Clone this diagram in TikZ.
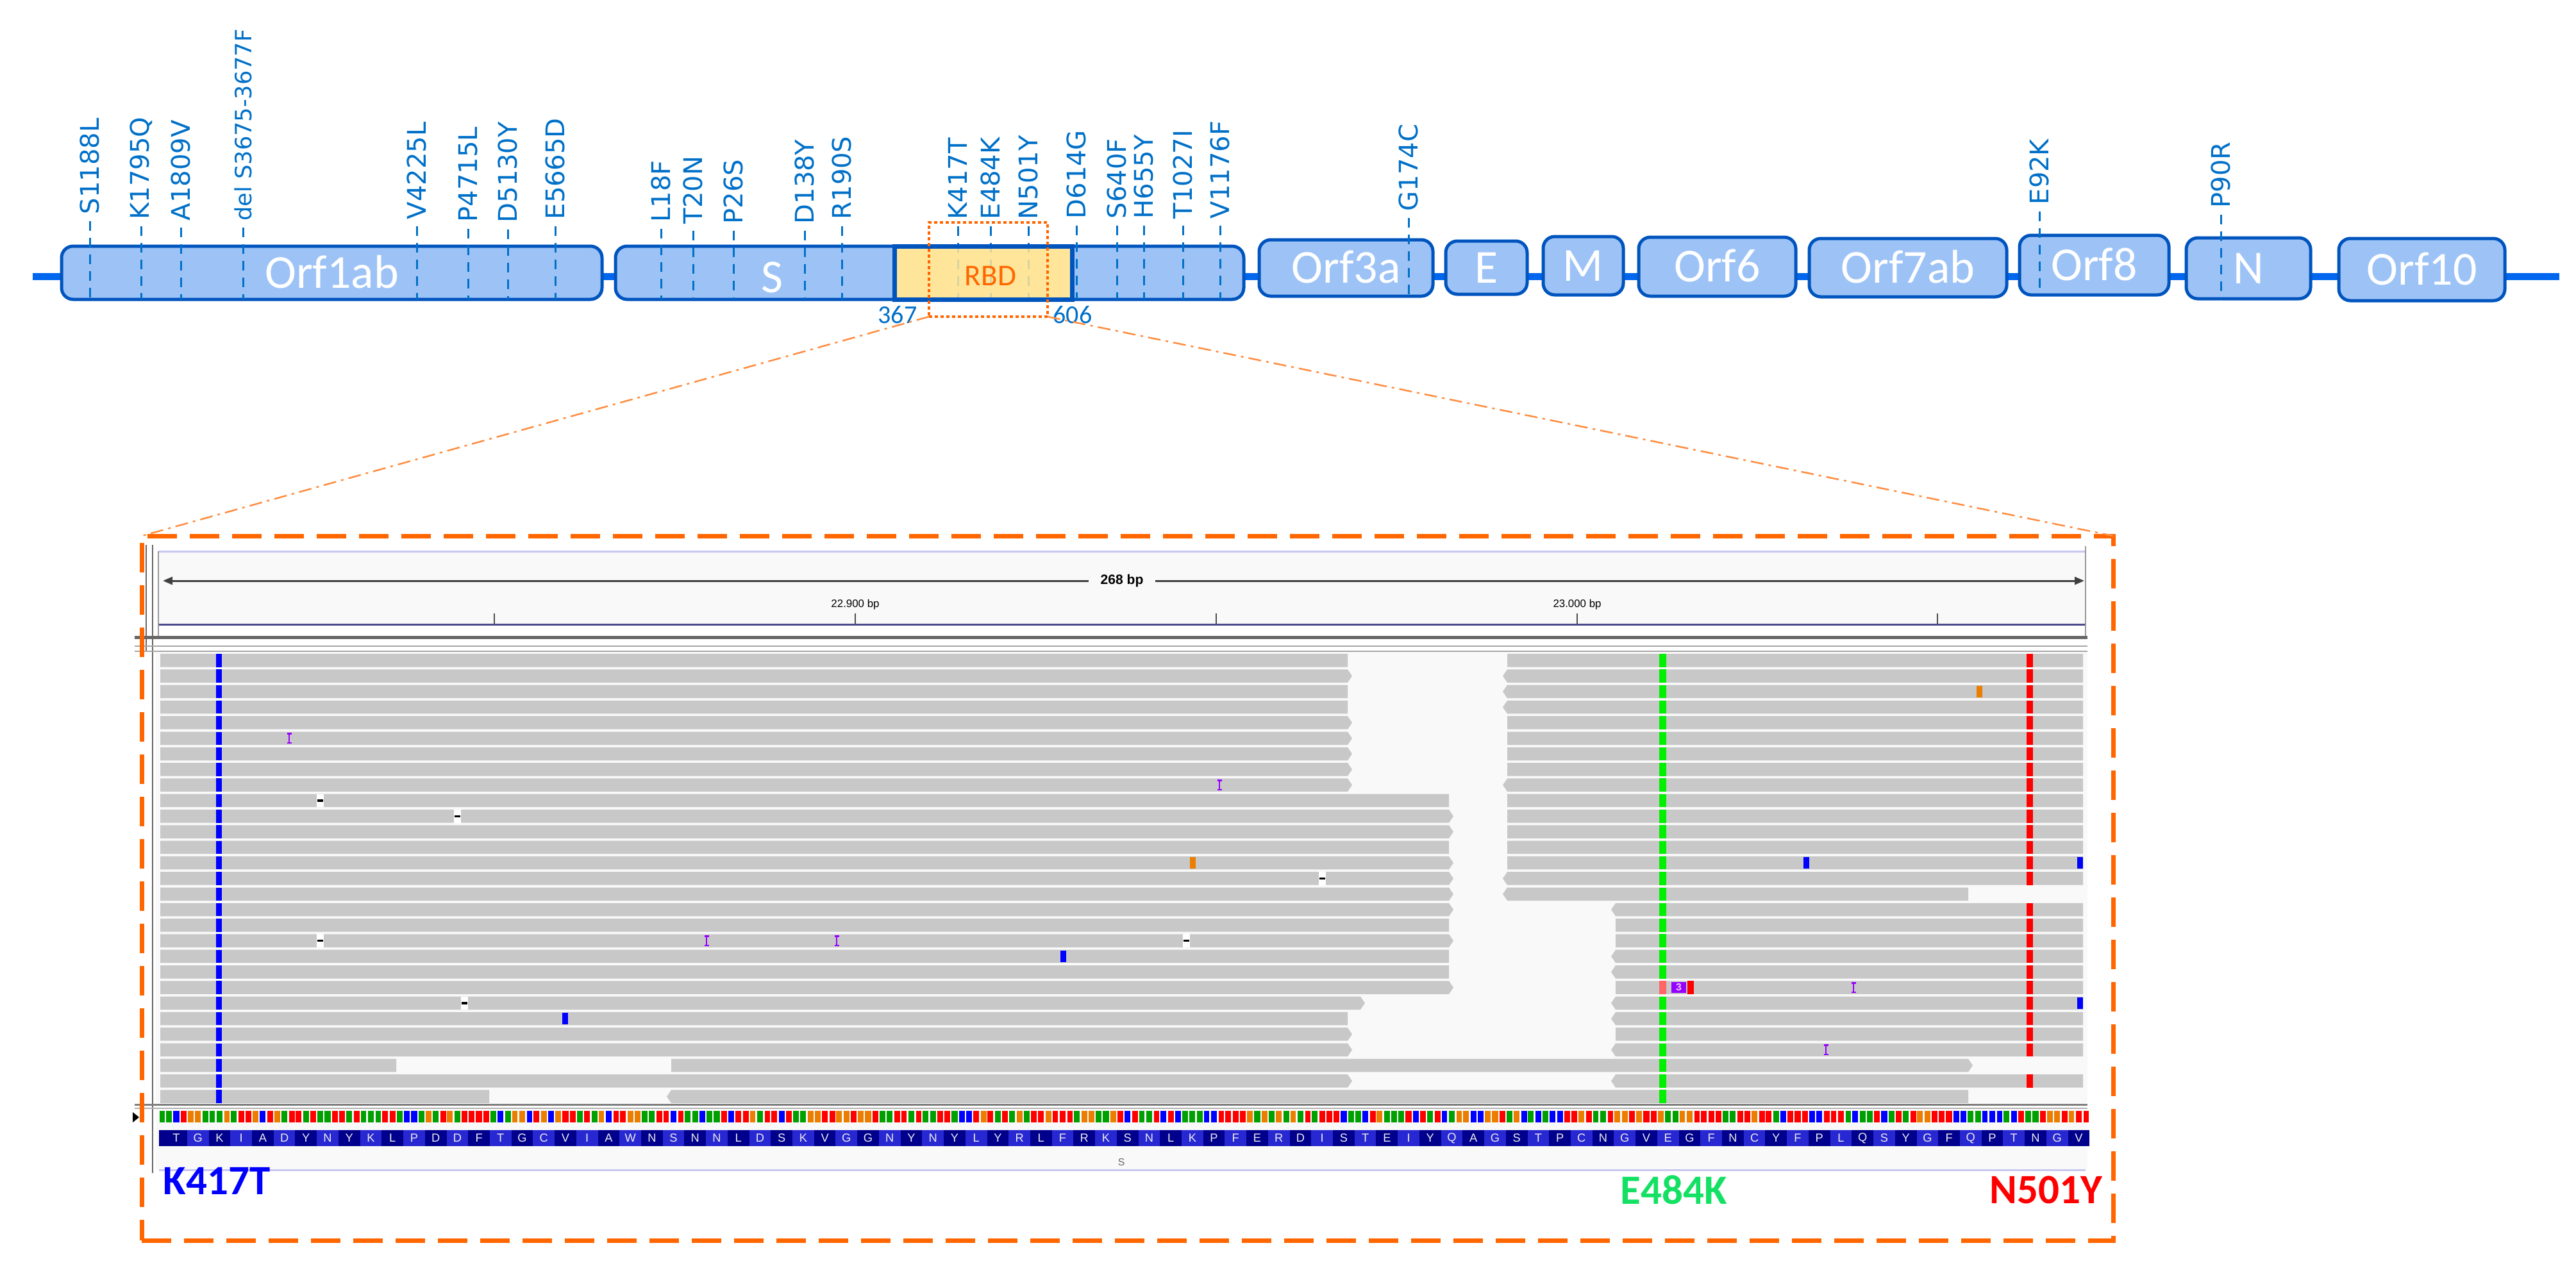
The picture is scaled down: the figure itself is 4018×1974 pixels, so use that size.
\documentclass[tikz,border=0pt]{standalone}
\usepackage{fontspec}
\setmainfont{DejaVu Sans}
\newfontfamily\carlito{Carlito}
\newfontfamily\libsans{Liberation Sans}
\usetikzlibrary{arrows.meta}

\definecolor{geneline}{RGB}{0,102,238}
\definecolor{genefill}{RGB}{157,195,246}
\definecolor{genedraw}{RGB}{0,84,190}
\definecolor{mutblue}{RGB}{0,112,200}
\definecolor{rbdyellow}{RGB}{255,229,153}
\definecolor{zoomorange}{RGB}{255,102,0}
\definecolor{readgray}{RGB}{200,200,200}
\definecolor{panelbg}{RGB}{249,249,249}
\definecolor{lavender}{RGB}{200,200,240}
\definecolor{rulerblue}{RGB}{75,75,140}
\definecolor{ntA}{RGB}{0,160,0}
\definecolor{ntC}{RGB}{0,0,255}
\definecolor{ntG}{RGB}{235,125,0}
\definecolor{ntT}{RGB}{255,0,0}
\definecolor{aadark}{RGB}{0,0,140}
\definecolor{aalight}{RGB}{40,40,210}
\definecolor{insviolet}{RGB}{150,0,255}
\definecolor{kcol}{RGB}{0,0,255}
\definecolor{ecol}{RGB}{0,240,0}
\definecolor{elbl}{RGB}{20,225,100}
\definecolor{ncol}{RGB}{255,0,0}

\begin{document}
\begin{tikzpicture}[x=0.1mm, y=-0.1mm,
  gene/.style={draw=genedraw, fill=genefill, line width=0.5mm, rounded corners=1.8mm,
    inner sep=0pt, outer sep=0pt, text=white,
    font=\carlito\fontsize{21pt}{21pt}\selectfont, text height=13.5pt, text depth=0pt},
  mut/.style={rotate=90, anchor=west, inner sep=0pt, text=mutblue,
    font=\fontsize{11.4pt}{11.4pt}\selectfont},
  mutline/.style={mutblue, line width=0.3mm, dash pattern=on 1.5mm off 1.1mm},
  zoomline/.style={zoomorange!75, line width=0.25mm, dash pattern=on 2mm off 0.8mm on 0.4mm off 0.8mm},
  num/.style={inner sep=0pt, text=mutblue, font=\carlito\fontsize{11.4pt}{11.4pt}\selectfont,
    text height=7.3pt, text depth=0pt},
  callout/.style={inner sep=0pt, font=\carlito\bfseries\fontsize{18.5pt}{18.5pt}\selectfont,
    text height=12pt, text depth=0pt},
  tick/.style={inner sep=0pt, font=\libsans\fontsize{4.8pt}{4.8pt}\selectfont},
  rbdbox/.style={minimum width=27.7mm, minimum height=8.3mm, inner sep=0pt, outer sep=0pt}]
\useasboundingbox (0,0) rectangle (4018,1974);

% genome backbone
\coordinate (g0) at (51,431);
\coordinate (g1) at (3992,431);
\draw[geneline, line width=1.1mm] (g0) -- (g1);

% genes
\node[gene, minimum width=84.3mm, minimum height=8.3mm] (orf1ab) at (517.5,425.5) {Orf1ab};
\node[gene, minimum width=98mm, minimum height=8.3mm] (s) at (1450,425.5) {};
\node[gene, minimum width=27.1mm, minimum height=8.8mm] (orf3a) at (2099.5,418) {Orf3a};
\node[gene, minimum width=12.7mm, minimum height=8.3mm] (e) at (2318.5,417.5) {E};
\node[gene, minimum width=12.5mm, minimum height=9.1mm] (m) at (2469.5,414.5) {M};
\node[gene, minimum width=24.5mm, minimum height=9.2mm] (orf6) at (2678.5,416) {Orf6};
\node[gene, minimum width=30.8mm, minimum height=9.1mm] (orf7ab) at (2976,417.5) {Orf7ab};
\node[gene, minimum width=23.3mm, minimum height=9.3mm] (orf8) at (3266.5,413.5) {Orf8};
\node[gene, minimum width=19.4mm, minimum height=9.5mm] (n) at (3507,418.5) {N};
\node[gene, minimum width=25.9mm, minimum height=9.7mm] (orf10) at (3777.5,420.5) {Orf10};
\node[rbdbox, fill=rbdyellow] (rbdbase) at (1533.5,425.5) {};

% mutations
\foreach \nm/\x/\y/\g in {S1188L/140/335/orf1ab, K1795Q/220/343/orf1ab, A1809V/282/345/orf1ab,
    V4225L/650/343/orf1ab, P4715L/730/347/orf1ab, D5130Y/792/348/orf1ab, E5665D/866/343/orf1ab,
    L18F/1031/347/s, T20N/1081/350/s, P26S/1144/350/s, D138Y/1255/350/s, R190S/1313/343/s,
    K417T/1494/343/s, E484K/1545/343/s, N501Y/1604/343/s, D614G/1679/342/s, S640F/1742/342/s,
    H655Y/1784/342/s, T1027I/1845/342/s, V1176F/1903/342/s,
    G174C/2197/330/orf3a, E92K/3181/320/orf8, P90R/3464/325/n}{
  \node[mut] (m-\nm) at (\x,\y) {\nm};
  \draw[mutline] (m-\nm.west) ++(0,10) -- (m-\nm.west |- \g.south);
}
\node[mut, font=\fontsize{10pt}{10pt}\selectfont] (m-del) at (379,345) {del S3675-3677F};
\draw[mutline] (m-del.west) ++(0,10) -- (m-del.west |- orf1ab.south);

\node[inner sep=0pt, text=white, font=\carlito\fontsize{21pt}{21pt}\selectfont,
  text height=13.5pt, text depth=0pt] (slabel) at (1204,433) {S};

% receptor binding domain
\node[rbdbox, draw=genedraw, fill=rbdyellow, fill opacity=0.85, line width=0.7mm] (rbd) at (1533.5,425.5) {};
\node[text=zoomorange, inner sep=0pt, font=\carlito\fontsize{13.4pt}{13.4pt}\selectfont] (rbdlabel) at (1545,430) {RBD};
\node[draw=zoomorange, line width=0.45mm, dash pattern=on 0.5mm off 0.4mm,
  minimum width=18.5mm, minimum height=14.7mm, inner sep=0pt, outer sep=0pt] (rbdframe) at (1541.5,420.5) {};
\node[num] (n367) at (1400,492) {367};
\node[num] (n606) at (1673,492) {606};

% IGV: ruler
\fill[panelbg] (247,858) rectangle (3253,974);
\draw[lavender, line width=0.3mm] (247,860) -- (3253,860);
\draw[rulerblue, line width=0.3mm] (247,974) -- (3253,974);
\draw[black!40, line width=0.15mm] (247,860) -- (247,994) (3253,852) -- (3253,994);
\draw[black!60, line width=0.15mm] (228,850) -- (228,1016) (238,850) -- (238,1830);
\coordinate (spanL) at (254,906);
\coordinate (spanR) at (3251,906);
\node[fill=panelbg, inner xsep=1.8mm, inner ysep=0pt,
  font=\libsans\bfseries\fontsize{6pt}{6pt}\selectfont] (span) at (1750,906) {268 bp};
\draw[black!75, line width=0.3mm, -{Triangle[length=1.5mm,width=1.2mm]}] (span.west) -- (spanL);
\draw[black!75, line width=0.3mm, -{Triangle[length=1.5mm,width=1.2mm]}] (span.east) -- (spanR);
\foreach \x in {771,1334,1897,2460,3022}
  \draw[black!70, line width=0.15mm] (\x,957) -- (\x,974);
\node[tick] (t22900) at (1334,943) {22.900 bp};
\node[tick] (t23000) at (2460,943) {23.000 bp};
\draw[black!60, line width=0.5mm] (210,994) -- (3256,994);
\draw[black!35, line width=0.2mm] (210,1008) -- (3256,1008) (210,1016) -- (3256,1016);

% IGV: reads
\fill[panelbg] (243,1017) rectangle (3256,1721);
\foreach \k/\xa/\xb/\la/\ra in {0/250/2102/0/0, 0/2351/3249/0/0, 1/250/2102/0/1, 1/2351/3249/1/0,
    2/250/2102/0/0, 2/2351/3249/1/0, 3/250/2102/0/0, 3/2351/3249/1/0,
    4/250/2102/0/1, 4/2351/3249/0/0, 5/250/2102/0/1, 5/2351/3249/0/0,
    6/250/2102/0/1, 6/2351/3249/0/0, 7/250/2102/0/1, 7/2351/3249/0/0,
    8/250/2102/0/1, 8/2351/3249/1/0, 9/250/2260/0/0, 9/2351/3249/0/0,
    10/250/2260/0/1, 10/2351/3249/0/0, 11/250/2260/0/1, 11/2351/3249/0/0,
    12/250/2260/0/0, 12/2351/3249/0/0, 13/250/2260/0/1, 13/2351/3249/0/0,
    14/250/2260/0/1, 14/2351/3249/1/0, 15/250/2260/0/1, 15/2351/3070/1/0,
    16/250/2260/0/1, 16/2520/3249/1/0, 17/250/2260/0/0, 17/2520/3249/0/0,
    18/250/2260/0/1, 18/2520/3249/0/0, 19/250/2260/0/0, 19/2520/3249/1/0,
    20/250/2260/0/0, 20/2520/3249/1/0, 21/250/2260/0/1, 21/2520/3249/0/0,
    22/250/2122/0/1, 22/2520/3249/1/0, 23/250/2102/0/0, 23/2520/3249/1/0,
    24/250/2102/0/1, 24/2520/3249/0/0, 25/250/2102/0/1, 25/2520/3249/1/0,
    26/250/618/0/0, 26/1047/3070/0/1, 27/250/2102/0/1, 27/2520/3249/1/0,
    28/250/763/0/0, 28/1047/3070/1/0}{
  \pgfmathsetmacro\yt{1020+24.3*\k}
  \pgfmathsetmacro\yb{\yt+20.5}
  \pgfmathsetmacro\ym{\yt+10.25}
  \fill[readgray] (\xa,\yt) -- (\xb,\yt) -- (\xb+7*\ra,\ym) -- (\xb,\yb) -- (\xa,\yb) -- (\xa-7*\la,\ym) -- cycle;
}
% mutation columns
\foreach \k in {0,...,28}{
  \pgfmathsetmacro\yt{1020+24.3*\k}
  \fill[kcol] (336.5,\yt) rectangle (345.5,\yt+20.5);
}
\foreach \k in {0,...,20,22,23,...,28}{
  \pgfmathsetmacro\yt{1020+24.3*\k}
  \fill[ecol] (2587.5,\yt) rectangle (2598.5,\yt+20.5);
}
\foreach \k in {0,...,14,16,17,...,25,27}{
  \pgfmathsetmacro\yt{1020+24.3*\k}
  \fill[ncol] (3161,\yt) rectangle (3171,\yt+20.5);
}
% insertions, deletions, mismatches
\foreach \k/\x in {5/451, 8/1902, 18/1102, 18/1305, 21/2891, 25/2848}{
  \pgfmathsetmacro\yt{1020+24.3*\k}
  \draw[insviolet, line width=0.25mm] (\x,\yt+3) -- (\x,\yt+17.5)
    (\x-3.5,\yt+3) -- (\x+3.5,\yt+3) (\x-3.5,\yt+17.5) -- (\x+3.5,\yt+17.5);
}
\foreach \k/\x in {9/499, 10/713, 14/2062, 18/499, 18/1850, 22/724}{
  \pgfmathsetmacro\yt{1020+24.3*\k}
  \fill[white] (\x-5.5,\yt) rectangle (\x+5.5,\yt+20.5);
  \fill[black] (\x-4.5,\yt+8.5) rectangle (\x+4.5,\yt+12);
}
\foreach \k/\x/\c in {2/3087/ntG, 13/1860/ntG, 23/881/ntC, 19/1658/ntC, 13/2817/ntC, 13/3244/ntC, 22/3244/ntC}{
  \pgfmathsetmacro\yt{1020+24.3*\k}
  \fill[\c] (\x-4.5,\yt+1) rectangle (\x+4.5,\yt+19.5);
}
\fill[ntT!60] (2587.5,1530.3) rectangle (2598.5,1550.8);
\fill[insviolet] (2607,1532) rectangle (2630,1549);
\node[inner sep=0pt, text=white!80!insviolet, font=\libsans\bfseries\fontsize{4.5pt}{4.5pt}\selectfont] (ins3) at (2618.5,1540.5) {3};
\fill[ntT] (2632,1530.3) rectangle (2642,1550.8);

% IGV: sequence and translation
\draw[black!50, line width=0.3mm] (210,1723) -- (3256,1723);
\draw[black!30, line width=0.2mm] (210,1729) -- (3256,1729);
\fill[panelbg] (243,1731) rectangle (3256,1824);
\draw[lavender, line width=0.3mm] (248,1825) -- (3253,1825);
\fill[aadark] (248,1763) rectangle (258.2,1788);
\fill[ntA] (249,1733) rectangle (256.5,1751);
\foreach \res/\na/\nb/\nc [count=\k from 0] in {T/A/C/T, G/G/G/A, K/A/A/G, I/A/T/T, A/G/C/T, D/G/A/T,
    Y/T/A/T, N/A/A/T, Y/T/A/T, K/A/A/A, L/T/T/A, P/C/C/A, D/G/A/T, D/G/A/T, F/T/T/T, T/A/C/A,
    G/G/G/C, C/T/G/C, V/G/T/T, I/A/T/A, A/G/C/T, W/T/G/G, N/A/A/T, S/T/C/T, N/A/A/C, N/A/A/T,
    L/C/T/T, D/G/A/T, S/T/C/T, K/A/A/G, V/G/T/T, G/G/G/T, G/G/G/T, N/A/A/T, Y/T/A/T, N/A/A/T,
    Y/T/A/C, L/C/T/G, Y/T/A/T, R/A/G/A, L/T/T/G, F/T/T/T, R/A/G/G, K/A/A/G, S/T/C/T, N/A/A/T,
    L/C/T/C, K/A/A/A, P/C/C/T, F/T/T/T, E/G/A/G, R/A/G/A, D/G/A/T, I/A/T/T, S/T/C/A, T/A/C/T,
    E/G/A/A, I/A/T/C, Y/T/A/T, Q/C/A/G, A/G/C/C, G/G/G/T, S/A/G/C, T/A/C/A, P/C/C/T, C/T/G/T,
    N/A/A/T, G/G/G/T, V/G/T/T, E/G/A/A, G/G/G/T, F/T/T/T, N/A/A/T, C/T/G/T, Y/T/A/C, F/T/T/T,
    P/C/C/T, L/T/T/A, Q/C/A/A, S/T/C/A, Y/T/A/T, G/G/G/T, F/T/T/C, Q/C/A/A, P/C/C/C, T/A/C/T,
    N/A/A/T, G/G/G/T, V/G/T/T}{
  \pgfmathsetmacro\cx{275+33.72*\k}
  \ifodd\k\relax\def\aacol{aalight}\else\def\aacol{aadark}\fi
  \fill[\aacol] (\cx-16.86,1763) rectangle (\cx+16.86,1788);
  \node[inner sep=0pt, text=white!85!gray, font=\libsans\fontsize{5.2pt}{5.2pt}\selectfont] at (\cx,1775.5) {\res};
  \fill[nt\na] (\cx-15.9,1733) rectangle (\cx-7.1,1751);
  \fill[nt\nb] (\cx-4.6,1733) rectangle (\cx+4.6,1751);
  \fill[nt\nc] (\cx+7.1,1733) rectangle (\cx+15.9,1751);
}
\node[inner sep=0pt, text=black!60, font=\libsans\fontsize{4.5pt}{4.5pt}\selectfont] (sgene) at (1749,1813) {S};
\fill[black] (207,1735) -- (217,1743) -- (207,1751) -- cycle;

% highlighted variants
\node[callout, text=kcol] (lblK) at (338,1842) {K417T};
\node[callout, text=elbl] (lblE) at (2611,1857) {E484K};
\node[callout, text=ncol] (lblN) at (3191,1856) {N501Y};

% zoom frame
\node[draw=zoomorange, line width=0.7mm, dash pattern=on 4.6mm off 2mm,
  minimum width=307.5mm, minimum height=109.9mm, inner sep=0pt, outer sep=0pt] (igvframe) at (1758.5,1385.5) {};
\draw[zoomline] (rbdframe.south west) -- (igvframe.north west);
\draw[zoomline] (rbdframe.south east) -- (igvframe.north east);

\end{tikzpicture}
\end{document}
